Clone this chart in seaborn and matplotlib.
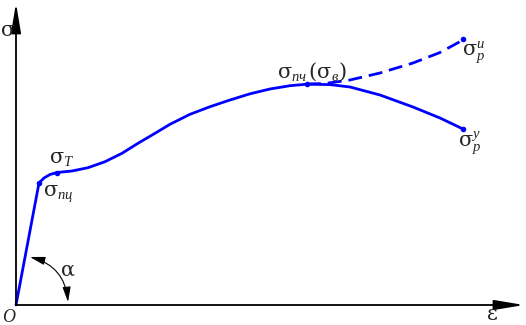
import matplotlib
matplotlib.use("Agg")
import matplotlib.pyplot as plt
import seaborn as sns
import pandas as pd

sns.set_theme(style="white")
plt.rcParams['mathtext.fontset'] = 'custom'
plt.rcParams['mathtext.rm'] = 'DejaVu Serif'
plt.rcParams['mathtext.it'] = 'Liberation Serif:italic'
plt.rcParams['font.family'] = ['DejaVu Serif', 'Liberation Serif']

# main stress-strain curve (strain, stress) in arbitrary units
strain = [0, 23, 28, 34, 41, 56, 72, 89, 106, 122, 139, 154, 174, 194, 214,
          234, 254, 274, 291, 314, 334, 364, 397, 424, 447]
stress = [0, 122, 127, 130.5, 132.5, 134, 137.3, 143.3, 151.7, 161.7, 171.7,
          180.7, 190.7, 198.3, 205, 211.2, 216, 219.3, 220.8, 220.4, 218, 210,
          198, 187, 176]
# dashed true-stress branch
strain_d = [291, 309, 334, 364, 397, 424, 447]
stress_d = [221, 221.5, 225, 232, 242, 252.5, 265]
# special points
pt_x = [23, 41, 291, 447, 447]
pt_y = [122, 132.5, 221, 176, 266]

fig = plt.figure(figsize=(5.26, 3.25), dpi=100)
ax = fig.add_axes([0, 0, 1, 1])
ax.set_xlim(-16, 510)
ax.set_ylim(-20, 305)
ax.axis('off')

blue = '#0000ff'
df = pd.DataFrame({'x': strain, 'y': stress})
sns.lineplot(data=df, x='x', y='y', sort=False, estimator=None, color=blue,
             lw=2.0, ax=ax)
dfd = pd.DataFrame({'x': strain_d, 'y': stress_d})
sns.lineplot(data=dfd, x='x', y='y', sort=False, estimator=None, color=blue,
             lw=2.0, ax=ax, dashes=False, linestyle=(0, (5, 2.5)))
sns.scatterplot(x=pt_x, y=pt_y, color=blue, s=16, linewidth=0, ax=ax, zorder=5)

# axes arrows
ax.annotate('', xy=(0, 302), xytext=(0, 0),
            arrowprops=dict(arrowstyle='-|>,head_length=1.8,head_width=0.3',
                            mutation_scale=10, lw=1.3, color='black',
                            shrinkA=0, shrinkB=0))
ax.annotate('', xy=(508, 0), xytext=(0, 0),
            arrowprops=dict(arrowstyle='-|>,head_length=1.8,head_width=0.3',
                            mutation_scale=10, lw=1.3, color='black',
                            shrinkA=0, shrinkB=0))
# angle arc
ax.annotate('', xy=(52, 3), xytext=(14, 48),
            arrowprops=dict(arrowstyle='<|-|>,head_length=1.3,head_width=0.35',
                            mutation_scale=7, lw=0.8, color='black',
                            shrinkA=0, shrinkB=0,
                            connectionstyle='arc3,rad=-0.35'))

fs = 15
ax.text(-8, 275, 'σ', fontsize=fs, ha='center', va='center')
ax.text(476, -10, 'ε', fontsize=fs, ha='center', va='center')
ax.text(-7, -12, 'O', fontsize=13, style='italic', family='Liberation Serif',
        ha='center', va='center')
ax.text(52, 35, 'α', fontsize=fs, ha='center', va='center')
ax.text(33, 146, r'$\mathrm{σ}_{T}$', fontsize=fs, ha='left', va='center')
ax.text(27, 111, r'$\mathrm{σ}_{пц}$', fontsize=fs, ha='left', va='center')
ax.text(261, 233, r'$\mathrm{σ}_{пч}\,(\mathrm{σ}_{в})$', fontsize=fs,
        ha='left', va='center')
ax.text(446, 253, r'$\mathrm{σ}_{p}^{u}$', fontsize=fs, ha='left', va='center')
ax.text(442, 162, r'$\mathrm{σ}_{p}^{y}$', fontsize=fs, ha='left', va='center')

fig.savefig('out.png', dpi=100)
